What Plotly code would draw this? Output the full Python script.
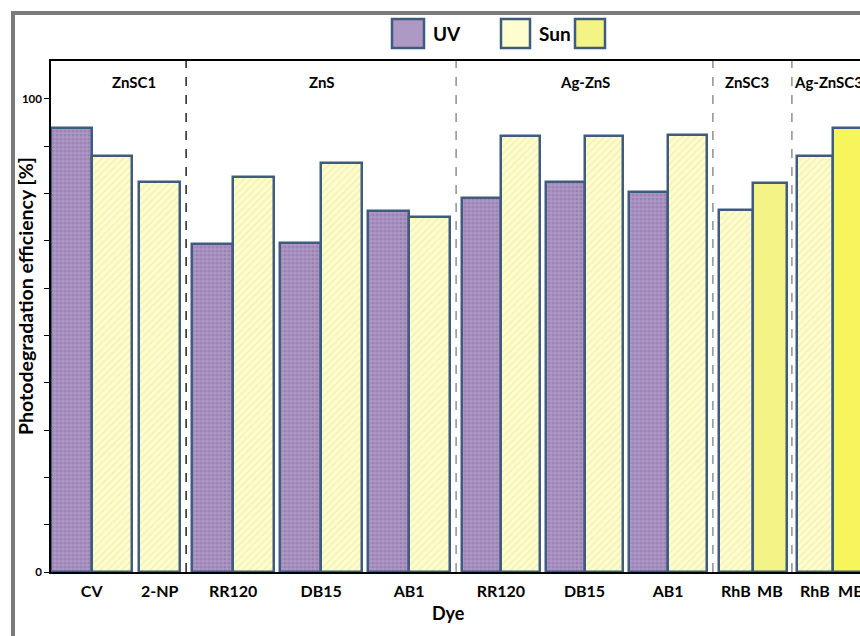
import plotly.graph_objects as go

# ---------------- data ----------------
catalysts = ["ZnSC1", "ZnSC1", "ZnS", "ZnS", "ZnS", "Ag-ZnS", "Ag-ZnS", "Ag-ZnS",
             "ZnSC3", "ZnSC3", "Ag-ZnSC3", "Ag-ZnSC3"]
dyes = ["CV", "2-NP", "RR120", "DB15", "AB1", "RR120", "DB15", "AB1",
        "RhB", "MB", "RhB", "MB"]
uv = [93.9, None, 69.3, 69.6, 76.3, 79.1, 82.5, 80.3, None, None, None, None]
sun = [87.9, 82.5, 83.5, 86.5, 75.1, 92.2, 92.2, 92.4, 76.5, None, 87.9, None]
sun2 = [None, None, None, None, None, None, None, None, None, 82.2, None, 93.9]

y_tick_vals = [0, 100]
y_tick_text = ["0", "100"]

# ---------------- layout parameters (sizes / styles) ----------------
W, H = 860, 636
ML, MR, MT, MB = 51, 0, 61, 64
BAR_W = {"ZnSC1": 40.7, "ZnS": 41.0, "Ag-ZnS": 38.8, "ZnSC3": 34.0, "Ag-ZnSC3": 36.0}
DYE_GAP = {"ZnSC1": 7, "ZnS": 6, "Ag-ZnS": 6, "ZnSC3": 0, "Ag-ZnSC3": 0}
SECTION_GAP = {"ZnS": 12, "Ag-ZnS": 12, "ZnSC3": 12, "Ag-ZnSC3": 10}
FONT = "Lato"
EDGE = "#3f5b80"
UV_BG, UV_FG = "#ae98c4", "#8a6fa6"
SUN_BG, SUN_FG = "#fdfdd0", "#e6e690"
SUN2_COLORS = {"ZnSC3": "#f3f386", "Ag-ZnSC3": "#f6f65c"}

# ---------------- compute bar positions on a linear axis ----------------
series = {"uv": uv, "sun": sun, "sun2": sun2}
bx = {k: [] for k in series}
by = {k: [] for k in series}
bw = {k: [] for k in series}
bc = {k: [] for k in series}
dye_centers = []
dividers = []
sections = {}
pos = 0.0
prev = None
for i, (cat, dye) in enumerate(zip(catalysts, dyes)):
    w = BAR_W[cat]
    if prev is not None:
        if cat != prev:
            dividers.append(pos + SECTION_GAP[cat] / 2)
            pos += SECTION_GAP[cat]
        else:
            pos += DYE_GAP[cat]
    start = pos
    for key, vals in series.items():
        v = vals[i]
        if v is None:
            continue
        bx[key].append(pos + w / 2)
        by[key].append(v)
        bw[key].append(w)
        bc[key].append(SUN2_COLORS.get(cat, "#f4f480"))
        pos += w
    dye_centers.append((start + pos) / 2)
    s = sections.setdefault(cat, [start, pos])
    s[1] = pos
    prev = cat

fig = go.Figure()
fig.add_trace(go.Bar(
    x=bx["uv"], y=by["uv"], width=bw["uv"], name="UV",
    marker=dict(color=UV_BG, line=dict(color=EDGE, width=2.5),
                pattern=dict(shape=".", fgcolor=UV_FG, bgcolor=UV_BG, size=4, solidity=0.5)),
))
fig.add_trace(go.Bar(
    x=bx["sun"], y=by["sun"], width=bw["sun"], name="Sun",
    marker=dict(color=SUN_BG, line=dict(color=EDGE, width=2.5),
                pattern=dict(shape="/", fgcolor=SUN_FG, bgcolor=SUN_BG, size=5, solidity=0.3)),
))
fig.add_trace(go.Bar(
    x=bx["sun2"], y=by["sun2"], width=bw["sun2"], name=" ",
    marker=dict(color=bc["sun2"], line=dict(color=EDGE, width=2.5)),
))

plot_w = W - ML - MR
plot_h = H - MT - MB


def px_x(px):
    return (px - ML) / plot_w


def px_y(py):
    return (H - MB - py) / plot_h


shapes = []
# group dividers
for j, d in enumerate(dividers):
    shapes.append(dict(type="line", xref="x", yref="paper", x0=d, x1=d, y0=0, y1=1,
                       line=dict(color="black" if j == 0 else "#7f7f7f", width=1.3, dash="dash")))
# outer chart frame (gray)
shapes.append(dict(type="line", xref="paper", yref="paper", x0=px_x(13), x1=px_x(13),
                   y0=px_y(H + 5), y1=px_y(11), line=dict(color="#7a7a78", width=4)))
shapes.append(dict(type="line", xref="paper", yref="paper", x0=px_x(11), x1=px_x(W + 5),
                   y0=px_y(13), y1=px_y(13), line=dict(color="#7a7a78", width=4)))

# custom legend boxes
legend_items = [("UV", UV_BG, 392, 424), ("Sun", SUN_BG, 501, 530), ("", SUN2_COLORS["ZnSC3"], 575, 605)]
annotations = []
for label, col, x0, x1 in legend_items:
    shapes.append(dict(type="rect", xref="paper", yref="paper", x0=px_x(x0), x1=px_x(x1),
                       y0=px_y(48), y1=px_y(19), fillcolor=col, line=dict(color=EDGE, width=2.5)))
    if label:
        annotations.append(dict(xref="paper", yref="paper", x=px_x(x1 + 7), y=px_y(33),
                                xanchor="left", yanchor="middle", showarrow=False,
                                text="<b>%s</b>" % label, font=dict(size=19, color="black", family=FONT)))

# section labels
for k, (cat, (s0, s1)) in enumerate(sections.items()):
    if cat == "Ag-ZnSC3":
        annotations.append(dict(x=dividers[-1], y=103.5, xref="x", yref="y", xanchor="left",
                                yanchor="middle", showarrow=False, text="<b>%s</b>" % cat,
                                font=dict(size=15, color="black", family=FONT)))
    else:
        shift = 18 if cat == "ZnSC1" else (-6 if cat == "ZnSC3" else 0)
        annotations.append(dict(x=(s0 + s1) / 2, y=103.5, xref="x", yref="y", xanchor="center",
                                yanchor="middle", showarrow=False, xshift=shift, text="<b>%s</b>" % cat,
                                font=dict(size=15, color="black", family=FONT)))

# axis titles
annotations.append(dict(xref="paper", yref="paper", x=px_x(25), y=px_y(296), textangle=-90,
                        showarrow=False, xanchor="center", yanchor="middle",
                        text="<b>Photodegradation efficiency [%]</b>",
                        font=dict(size=19.5, color="black", family=FONT)))
annotations.append(dict(xref="paper", yref="paper", x=px_x(448), y=px_y(613),
                        showarrow=False, xanchor="center", yanchor="middle",
                        text="<b>Dye</b>", font=dict(size=18, color="black", family=FONT)))

fig.update_layout(
    width=W, height=H,
    margin=dict(l=ML, r=MR, t=MT, b=MB, autoexpand=False),
    paper_bgcolor="white", plot_bgcolor="white",
    barmode="overlay", bargap=0,
    showlegend=False,
    font=dict(family=FONT, color="black"),
    shapes=shapes, annotations=annotations,
    xaxis=dict(range=[0, plot_w], tickvals=dye_centers,
               ticktext=["<b>%s</b>" % d for d in dyes], tickfont=dict(size=16, family=FONT),
               ticks="", showgrid=False, zeroline=False, showline=True, mirror=True,
               linecolor="black", linewidth=1.5, layer="below traces", automargin=False,
               ticklabelstandoff=4, ticklabeloverflow="allow"),
    yaxis=dict(range=[0, 108], tickvals=y_tick_vals, ticktext=["<b>%s</b>" % t for t in y_tick_text],
               tickfont=dict(size=11.5, family=FONT), ticks="outside", ticklen=5, tickcolor="black",
               minor=dict(dtick=10, ticks="outside", ticklen=5, tickcolor="black"),
               showgrid=False, zeroline=False, showline=True, linecolor="black", linewidth=1.5,
               automargin=False),
)

fig.write_html("out.html", config={"displayModeBar": False},
               post_script="document.body.style.margin='0px';document.body.style.overflow='hidden';")
